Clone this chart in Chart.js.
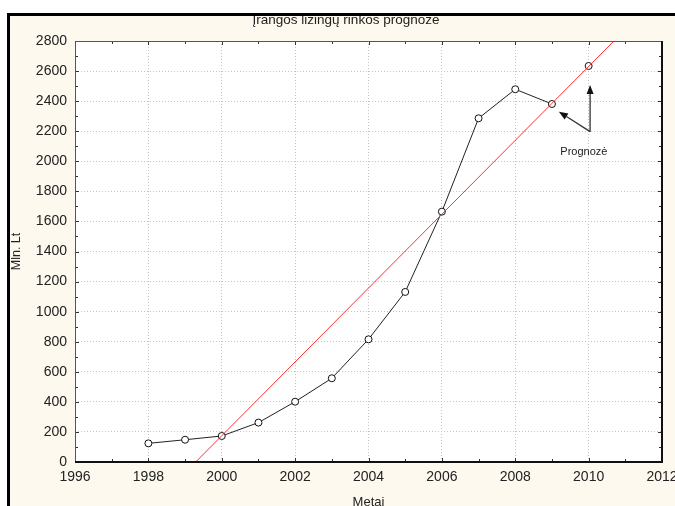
<!DOCTYPE html>
<html>
<head>
<meta charset="utf-8">
<title>Įrangos lizingų rinkos prognozė</title>
<script src="https://cdn.jsdelivr.net/npm/chart.js@4/dist/chart.umd.min.js"></script>
<style>
  body { margin: 0; background: #fff; }
  canvas { display: block; }
</style>
</head>
<body>
<canvas id="leasingChart" width="675" height="506"></canvas>
<script>
// faktiniai duomenys, mln. Lt
const years = [1998, 1999, 2000, 2001, 2002, 2003, 2004, 2005, 2006, 2007, 2008, 2009];
const leasingValues = [124, 148, 173, 262, 401, 557, 816, 1131, 1665, 2286, 2479, 2381];

// prognozės taškas
const forecastYears = [2010];
const forecastValues = [2634];

// tiesinio trendo galai
const trendYears = [1999.29, 2010.69];
const trendValues = [0, 2800];

// rodyklių pradžia ir galai
const arrowFrom = [2010.04, 2197];
const arrowTips = [[2010.04, 2507], [2009.19, 2330]];
const noteText = "Prognozė";
const notePos = [2009.87, 2062];

const FONT = "'Liberation Sans', Arial, sans-serif";
const CREAM = "#fdf9ef";

function toPoints(xs, ys) {
  return xs.map((x, i) => ({ x: x, y: ys[i] }));
}

// fonas, rėmeliai ir vidinės padalos
const framePlugin = {
  id: "frame",
  beforeDraw(chart) {
    const { ctx, chartArea: a } = chart;
    ctx.save();
    ctx.fillStyle = CREAM;
    ctx.fillRect(0, 0, chart.width, chart.height);
    ctx.fillStyle = "#fff";
    ctx.fillRect(a.left, a.top, a.right - a.left, a.bottom - a.top);
    ctx.restore();
  },
  afterDatasetsDraw(chart) {
    const { ctx, chartArea: a, scales } = chart;
    const xs = scales.x, ys = scales.y;
    ctx.save();
    ctx.strokeStyle = "#333";
    ctx.lineWidth = 1;
    ctx.beginPath();
    for (let v = 0; v <= 2800; v += 100) {
      const py = Math.round(ys.getPixelForValue(v)) + 0.5;
      const len = v % 200 === 0 ? 4 : 3;
      ctx.moveTo(a.left, py); ctx.lineTo(a.left + len, py);
      ctx.moveTo(a.right, py); ctx.lineTo(a.right - len, py);
    }
    for (let yr = 1996; yr <= 2012; yr++) {
      const px = Math.round(xs.getPixelForValue(yr)) + 0.5;
      const len = yr % 2 === 0 ? 4 : 3;
      ctx.moveTo(px, a.bottom); ctx.lineTo(px, a.bottom - len);
      ctx.moveTo(px, a.top); ctx.lineTo(px, a.top + len);
    }
    ctx.stroke();

    ctx.strokeStyle = "#555";
    ctx.lineWidth = 1;
    ctx.beginPath();
    ctx.moveTo(a.left + 0.5, a.bottom);
    ctx.lineTo(a.left + 0.5, a.top + 0.5);
    ctx.lineTo(a.right, a.top + 0.5);
    ctx.stroke();
    ctx.strokeStyle = "#111";
    ctx.lineWidth = 2;
    ctx.beginPath();
    ctx.moveTo(a.left, a.bottom);
    ctx.lineTo(a.right, a.bottom);
    ctx.lineTo(a.right, a.top);
    ctx.stroke();
    ctx.restore();
  },
  afterDraw(chart) {
    const ctx = chart.ctx;
    ctx.save();
    ctx.fillStyle = "#fff";
    ctx.fillRect(0, 0, chart.width, 13);
    ctx.fillRect(0, 0, 7, chart.height);
    ctx.fillStyle = "#000";
    ctx.fillRect(7, 13, chart.width - 7, 3);
    ctx.fillRect(7, 13, 3, chart.height - 13);
    ctx.restore();
  },
};

// rodyklės su užrašu
function drawArrow(ctx, x1, y1, x2, y2) {
  const ang = Math.atan2(y2 - y1, x2 - x1);
  const head = 9, half = 3.5;
  const bx = x2 - head * Math.cos(ang), by = y2 - head * Math.sin(ang);
  ctx.beginPath();
  ctx.moveTo(x1, y1);
  ctx.lineTo(bx, by);
  ctx.stroke();
  ctx.beginPath();
  ctx.moveTo(x2, y2);
  ctx.lineTo(bx + half * Math.sin(ang), by - half * Math.cos(ang));
  ctx.lineTo(bx - half * Math.sin(ang), by + half * Math.cos(ang));
  ctx.closePath();
  ctx.fill();
}

const notePlugin = {
  id: "note",
  afterDatasetsDraw(chart) {
    const { ctx, scales } = chart;
    const px = (v) => scales.x.getPixelForValue(v);
    const py = (v) => scales.y.getPixelForValue(v);
    ctx.save();
    ctx.strokeStyle = "#333";
    ctx.fillStyle = "#111";
    ctx.lineWidth = 1.3;
    arrowTips.forEach((t) => {
      drawArrow(ctx, px(arrowFrom[0]), py(arrowFrom[1]), px(t[0]), py(t[1]));
    });
    ctx.font = "11px " + FONT;
    ctx.fillStyle = "#222";
    ctx.textAlign = "center";
    ctx.textBaseline = "middle";
    ctx.fillText(noteText, px(notePos[0]), py(notePos[1]));
    ctx.restore();
  },
};

new Chart(document.getElementById("leasingChart"), {
  type: "scatter",
  data: {
    datasets: [
      {
        label: "Faktas",
        data: toPoints(years, leasingValues),
        showLine: true,
        borderColor: "#222",
        borderWidth: 1,
        pointRadius: 3.5,
        pointBackgroundColor: "#fff",
        pointBorderColor: "#111",
        pointBorderWidth: 1,
        order: 2,
      },
      {
        label: "Prognozė",
        data: toPoints(forecastYears, forecastValues),
        showLine: false,
        pointRadius: 3.5,
        pointBackgroundColor: "#fff",
        pointBorderColor: "#111",
        pointBorderWidth: 1,
        order: 3,
      },
      {
        label: "Trendas",
        data: toPoints(trendYears, trendValues),
        showLine: true,
        borderColor: "#ff3030",
        borderWidth: 1,
        pointRadius: 0,
        order: 1,
      },
    ],
  },
  options: {
    responsive: false,
    animation: false,
    layout: { padding: { left: 30, right: 13, top: 0, bottom: 0 } },
    plugins: {
      legend: { display: false },
      tooltip: { enabled: false },
      title: {
        display: true,
        text: "Įrangos lizingų rinkos prognozė",
        color: "#222",
        font: { family: FONT, size: 13.5, weight: "normal" },
        padding: { top: 12, bottom: 12.8 },
      },
    },
    scales: {
      x: {
        type: "linear",
        min: 1996,
        max: 2012,
        afterFit: (s) => {
          s.height = 44;
          s.paddingLeft = 0;
          s.paddingRight = 0;
        },
        ticks: {
          stepSize: 2,
          padding: 7,
          color: "#222",
          font: { family: FONT, size: 14 },
          callback: (v) => String(v),
        },
        grid: { color: "#c4c4c4", drawTicks: false },
        border: { display: false, dash: [1, 2] },
        title: {
          display: true,
          text: "Metai",
          color: "#222",
          font: { family: FONT, size: 13 },
          padding: { top: 0, bottom: -3.8 },
        },
      },
      y: {
        min: 0,
        max: 2800,
        afterFit: (s) => {
          s.width = 45;
          s.paddingTop = 0;
          s.paddingBottom = 0;
        },
        ticks: {
          stepSize: 200,
          padding: 8,
          color: "#222",
          font: { family: FONT, size: 14 },
          callback: (v) => String(v),
        },
        grid: { color: "#c4c4c4", drawTicks: false },
        border: { display: false, dash: [1, 2] },
        title: {
          display: true,
          text: "Mln. Lt",
          color: "#222",
          font: { family: FONT, size: 12.5 },
          padding: { top: -20.5, bottom: 0 },
        },
      },
    },
  },
  plugins: [framePlugin, notePlugin],
});
</script>
</body>
</html>
